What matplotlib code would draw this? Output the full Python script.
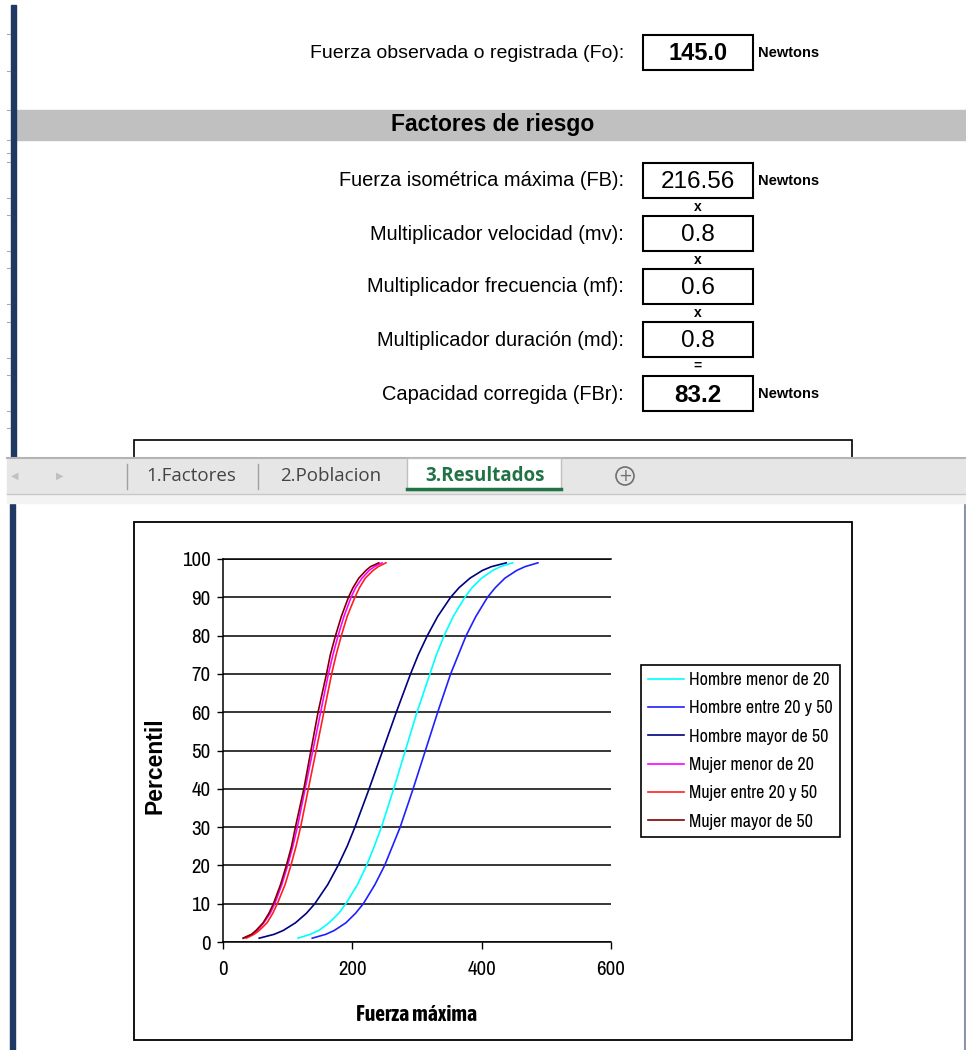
import matplotlib.pyplot as plt
from matplotlib.patches import Rectangle, Circle

ARIAL = ['Liberation Sans', 'DejaVu Sans']
NARROW = ['Archivo Narrow', 'Liberation Sans', 'DejaVu Sans']
NARROW_BOLD = ['Asap Condensed', 'Archivo Narrow', 'Liberation Sans']
TABFONT = ['Open Sans', 'Noto Sans', 'DejaVu Sans']

# sheet form (top part)
fo_label = 'Fuerza observada o registrada (Fo):'
fo_value = '145.0'
section_title = 'Factores de riesgo'
factor_labels = ['Fuerza isométrica máxima (FB):', 'Multiplicador velocidad (mv):',
                 'Multiplicador frecuencia (mf):', 'Multiplicador duración (md):',
                 'Capacidad corregida (FBr):']
factor_values = ['216.56', '0.8', '0.6', '0.8', '83.2']
factor_ops = ['x', 'x', 'x', '=']
sheet_tabs = ['1.Factores', '2.Poblacion', '3.Resultados']

# chart data: force (N) at each percentile
percentiles = [1, 2, 3, 5, 7.5, 10, 15, 20, 25, 30, 40, 50,
               60, 70, 75, 80, 85, 90, 92.5, 95, 97, 98, 99]
hombre_menor_20 = [116, 135, 148, 164, 179, 190, 208, 222, 234, 245, 264, 282,
                   300, 320, 330, 342, 356, 374, 385, 400, 417, 429, 448]
hombre_20_50 = [138, 159, 172, 190, 205, 217, 235, 250, 262, 274, 294, 313,
                332, 352, 364, 376, 391, 409, 421, 436, 454, 467, 487]
hombre_mayor_50 = [56, 79, 93, 112, 129, 142, 162, 178, 192, 204, 226, 247,
                   268, 290, 302, 316, 332, 352, 365, 382, 401, 415, 438]
mujer_menor_20 = [32, 45, 53, 63, 73, 80, 91, 100, 108, 115, 127, 139,
                  151, 163, 170, 178, 187, 198, 205, 215, 226, 234, 246]
mujer_20_50 = [36, 48, 56, 68, 77, 84, 96, 105, 113, 120, 132, 144,
               156, 168, 175, 183, 192, 204, 211, 220, 232, 240, 252]
mujer_mayor_50 = [31, 44, 51, 62, 71, 78, 89, 98, 106, 112, 125, 136,
                  147, 160, 166, 174, 183, 194, 201, 210, 221, 228, 241]

series = [hombre_menor_20, hombre_20_50, hombre_mayor_50,
          mujer_menor_20, mujer_20_50, mujer_mayor_50]
series_names = ['Hombre menor de 20', 'Hombre entre 20 y 50', 'Hombre mayor de 50',
                'Mujer menor de 20', 'Mujer entre 20 y 50', 'Mujer mayor de 50']
series_colors = ['#00ffff', '#2020ff', '#000080', '#ff00ff', '#ff2020', '#800000']

W, H = 966, 1050
fig = plt.figure(figsize=(W / 100, H / 100), dpi=100)
fig.patch.set_facecolor('white')

# background layer in pixel coordinates (y down)
bg = fig.add_axes([0, 0, 1, 1])
bg.set_xlim(0, W)
bg.set_ylim(H, 0)
bg.axis('off')

navy = '#1f3864'
bg.add_patch(Rectangle((10.5, 5), 5.5, 453, color=navy, zorder=2))
bg.add_patch(Rectangle((10, 504), 4.5, 546, color=navy, zorder=2))
bg.plot([965, 965], [505, 1050], color='#8a96aa', lw=1.5)
for yy in [34, 71, 110, 140, 153, 162, 198, 215, 251, 268, 304, 322, 358, 375, 411, 428]:
    bg.plot([7, 10], [yy, yy], color='#a8a8a8', lw=0.8)

# first row
bg.text(624, 53, fo_label, ha='right', va='center', family=ARIAL, size=14)
bg.add_patch(Rectangle((643, 35), 110, 35, fill=False, ec='black', lw=1.5))
bg.text(698, 53, fo_value, ha='center', va='center', family=ARIAL, size=17, weight='bold')
bg.text(758, 53, 'Newtons', ha='left', va='center', family=ARIAL, size=10.5, weight='bold')

# section band
bg.add_patch(Rectangle((16, 110), W - 16, 30, color='#c0c0c0', zorder=1))
bg.text(493, 125, section_title, ha='center', va='center', family=ARIAL, size=16.5,
        weight='bold', zorder=3)

row_y = [181, 234, 287, 340, 394]
for i, (lab, val) in enumerate(zip(factor_labels, factor_values)):
    y = row_y[i]
    bold = i == len(factor_labels) - 1
    bg.text(624, y, lab, ha='right', va='center', family=ARIAL, size=14.4)
    bg.add_patch(Rectangle((643, y - 18), 110, 35, fill=False, ec='black', lw=1.5))
    bg.text(698, y + 1, val, ha='center', va='center', family=ARIAL, size=17.5,
            weight='bold' if bold else 'normal')
    if i in (0, len(factor_labels) - 1):
        bg.text(758, y, 'Newtons', ha='left', va='center', family=ARIAL, size=10.5,
                weight='bold')
    if i < len(factor_ops):
        bg.text(698, y + 26, factor_ops[i], ha='center', va='center', family=ARIAL,
                size=10, weight='bold')

# chart frame peeking above the sheet tabs
bg.add_patch(Rectangle((134, 440), 718, 40, fill=False, ec='black', lw=1.2, zorder=1))

# sheet tab bar
bg.add_patch(Rectangle((7, 458), W - 7, 36, color='#e6e6e6', zorder=5))
bg.plot([7, W], [458, 458], color='#b4b4b4', lw=1.5, zorder=6)
bg.add_patch(Rectangle((7, 494), W - 7, 9, color='#f3f3f3', zorder=5))
bg.plot([7, W], [494, 494], color='#c8c8c8', lw=1, zorder=6)
bg.text(15, 476, '◀', ha='center', va='center', size=7, color='#c0c0c0', zorder=7)
bg.text(60, 476, '▶', ha='center', va='center', size=7, color='#c0c0c0', zorder=7)
for xx in [127, 258]:
    bg.plot([xx, xx], [464, 489], color='#a0a0a0', lw=1, zorder=7)
bg.add_patch(Rectangle((407, 458), 154, 32, fc='white', ec='#c0c0c0', lw=1, zorder=6))
bg.plot([407, 561], [489, 489], color='#217346', lw=2.5, zorder=7)
tab_x = [191, 331, 485]
for i, (tx, name) in enumerate(zip(tab_x, sheet_tabs)):
    active = i == len(sheet_tabs) - 1
    bg.text(tx, 476, name, ha='center', va='center', family=TABFONT, size=13.5,
            color='#217346' if active else '#444444',
            weight='bold' if active else 'normal', zorder=8)
bg.add_patch(Circle((625, 476), 9, fill=False, ec='#707070', lw=1.2, zorder=7))
bg.text(625, 476, '+', ha='center', va='center', size=12, color='#707070', zorder=8)

# chart outer border
bg.add_patch(Rectangle((134, 522), 718, 518, fill=False, ec='black', lw=1.3))

# the chart itself
ax = fig.add_axes([223 / W, 1 - 942 / H, 388 / W, 383 / H])
for ys, name, col in zip(series, series_names, series_colors):
    ax.plot(ys, percentiles, color=col, lw=1.2, label=name)

ax.set_xlim(0, 600)
ax.set_ylim(0, 100)
ax.set_xticks([0, 200, 400, 600])
ax.set_yticks(range(0, 101, 10))
ax.yaxis.grid(True, color='black', lw=1.1)
ax.set_axisbelow(True)
ax.spines['right'].set_visible(False)
for s in ['left', 'bottom', 'top']:
    ax.spines[s].set_color('black')
    ax.spines[s].set_linewidth(1.1)
ax.tick_params(axis='y', length=4, width=1, pad=5)
ax.tick_params(axis='x', length=5, width=1, pad=8)
for lab in ax.get_xticklabels() + ax.get_yticklabels():
    lab.set_family(NARROW)
    lab.set_fontsize(15)

ax.set_xlabel('Fuerza máxima', family=NARROW_BOLD, size=15.5, weight='bold')
ax.xaxis.set_label_coords(0.5, -0.162)
ax.set_ylabel('Percentil', family=ARIAL, size=16.5, weight='bold')
ax.yaxis.set_label_coords(-0.145, 0.46)

leg = ax.legend(loc='upper left', bbox_to_anchor=(641 / W, 1 - 665 / H),
                bbox_transform=fig.transFigure, borderaxespad=0, fancybox=False,
                edgecolor='black', framealpha=1,
                prop={'family': NARROW, 'size': 13},
                handlelength=2.0, handletextpad=0.25, labelspacing=0.68, borderpad=0.4)
leg.get_frame().set_linewidth(1.2)

fig.savefig('out.png', dpi=100)
